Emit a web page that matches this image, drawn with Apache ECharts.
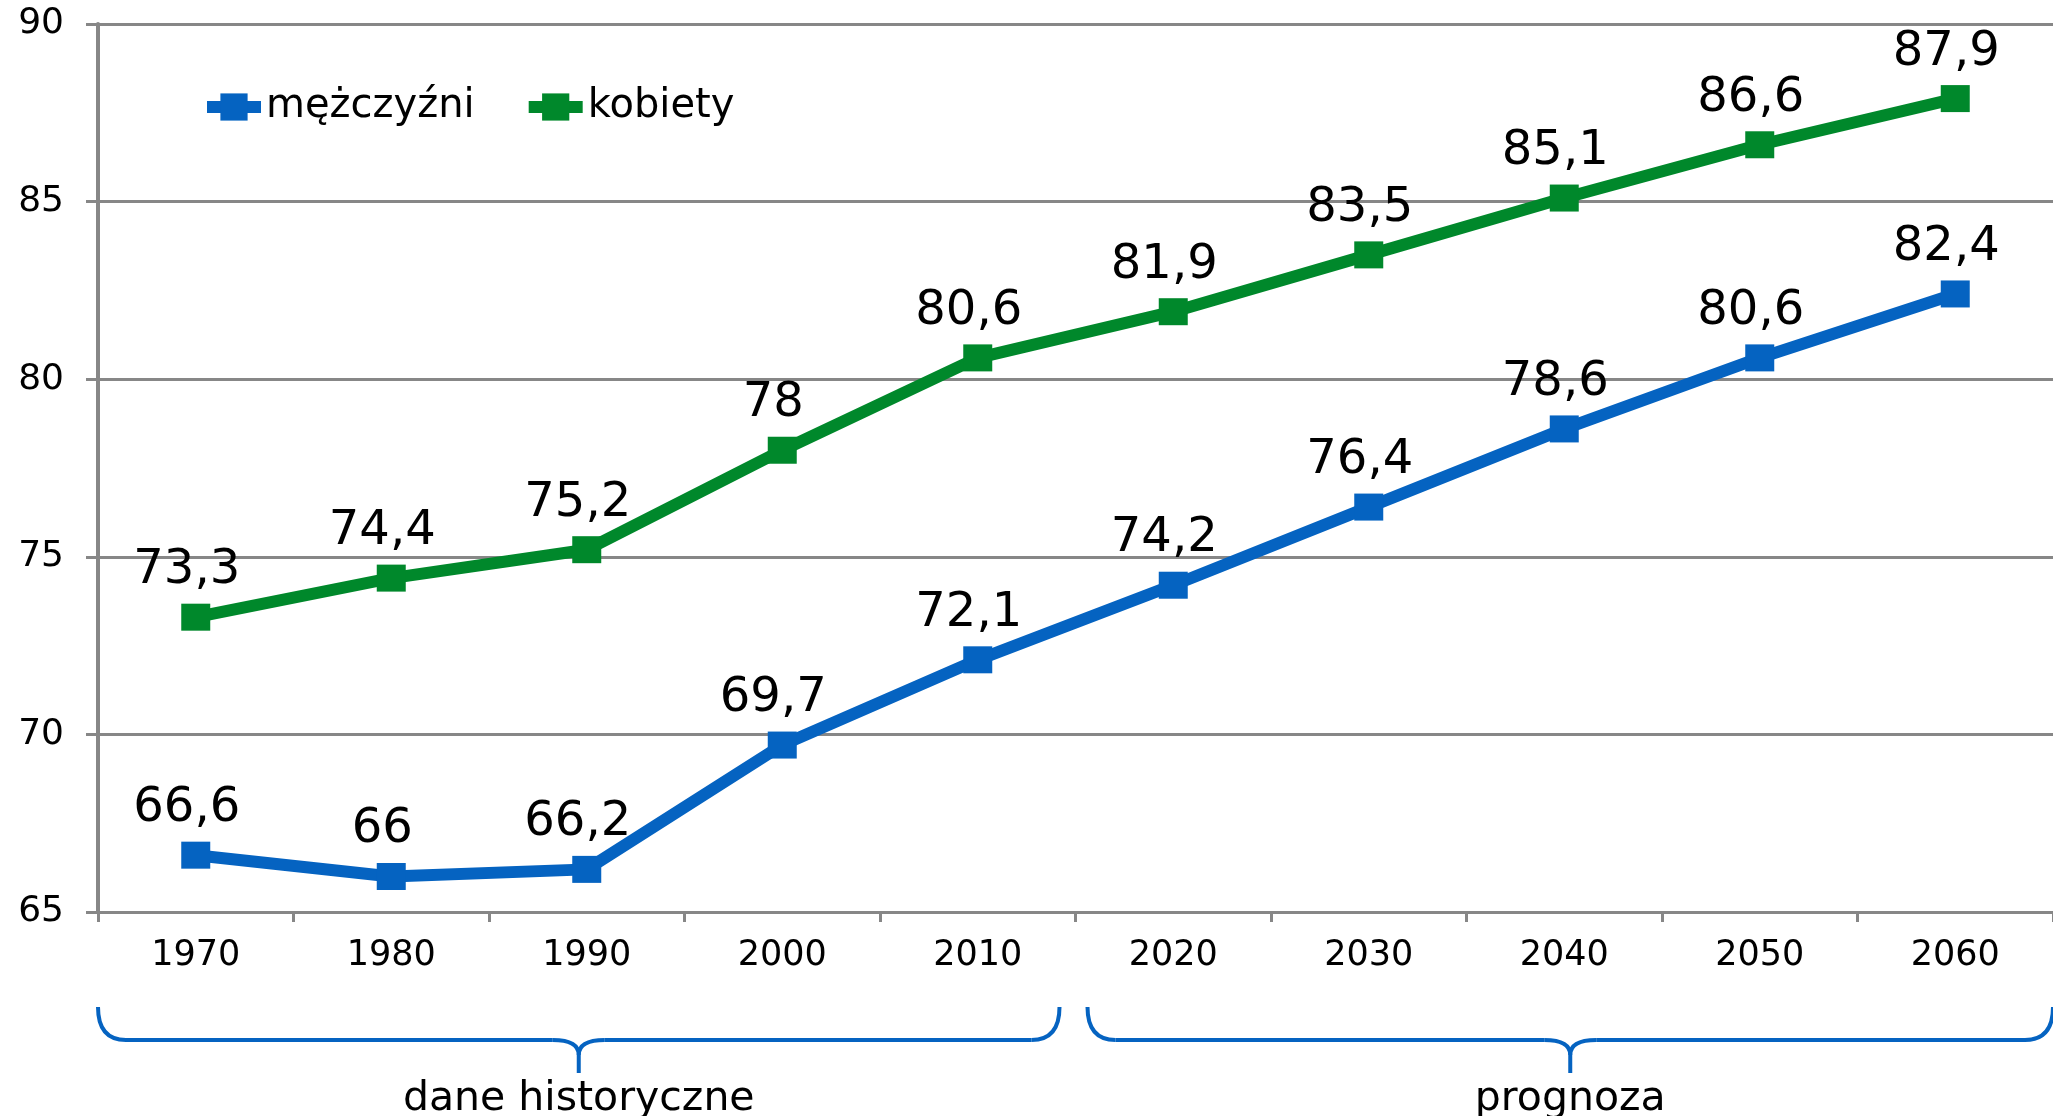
<!DOCTYPE html>
<html>
<head>
<meta charset="utf-8">
<script src="https://cdn.jsdelivr.net/npm/echarts@6/dist/echarts.min.js"></script>
<style>
html,body{margin:0;padding:0;background:#fff;}
#chart{width:2053px;height:1116px;}
</style>
</head>
<body>
<div id="chart"></div>
<script>
const categories = ['1970','1980','1990','2000','2010','2020','2030','2040','2050','2060'];
const menValues = [66.6, 66, 66.2, 69.7, 72.1, 74.2, 76.4, 78.6, 80.6, 82.4];
const womenValues = [73.3, 74.4, 75.2, 78, 80.6, 81.9, 83.5, 85.1, 86.6, 87.9];
const seriesNames = ['mężczyźni', 'kobiety'];
const yMin = 65, yMax = 90, yStep = 5;
const groupLabels = ['dane historyczne', 'prognoza'];
const groupRanges = [[0, 4], [5, 9]];

const BLUE = '#0563C1', GREEN = '#00882B', GRAY = '#878787';
const FONT = 'DejaVu Sans';

const chart = echarts.init(document.getElementById('chart'), null, {renderer: 'canvas'});

function fmt(p) { return String(p.value).replace('.', ','); }

function lineSeries(name, data, color) {
  return {
    name: name,
    type: 'line',
    data: data,
    symbol: 'rect',
    symbolSize: [29, 27],
    lineStyle: {color: color, width: 12},
    itemStyle: {color: color},
    label: {
      show: true, position: 'top', distance: 9, offset: [-9, 0],
      formatter: fmt, fontSize: 48, fontFamily: FONT, color: '#000'
    }
  };
}

chart.setOption({
  animation: false,
  backgroundColor: '#fff',
  grid: {left: 98, right: 0, top: 24, bottom: 204, containLabel: false},
  legend: {
    data: seriesNames,
    left: 196, top: 82,
    itemWidth: 54, itemHeight: 34, itemGap: 48,
    lineStyle: {width: 12},
    textStyle: {fontSize: 40, fontFamily: FONT, color: '#000'}
  },
  xAxis: {
    type: 'category',
    data: categories,
    boundaryGap: true,
    axisLine: {lineStyle: {color: GRAY, width: 3}},
    axisTick: {show: true, length: 10, lineStyle: {color: GRAY, width: 3}},
    axisLabel: {fontSize: 35, fontFamily: FONT, color: '#000', margin: 26}
  },
  yAxis: {
    type: 'value',
    min: yMin, max: yMax, interval: yStep,
    axisLine: {show: true, lineStyle: {color: GRAY, width: 4}},
    axisTick: {show: true, length: 12, lineStyle: {color: GRAY, width: 3}},
    splitLine: {show: true, lineStyle: {color: GRAY, width: 3}},
    axisLabel: {fontSize: 36, fontFamily: FONT, color: '#000', margin: 34}
  },
  series: [
    lineSeries(seriesNames[0], menValues, BLUE),
    lineSeries(seriesNames[1], womenValues, GREEN)
  ]
});

// Braces under the axis, positioned from category boundaries
function catX(i) { return chart.convertToPixel({xAxisIndex: 0}, i); }
const band = catX(1) - catX(0);
function boundary(i) { return catX(0) + (i - 0.5) * band; }
const yBase = chart.convertToPixel({yAxisIndex: 0}, yMin);
const yTop = yBase + 95, yMid = yBase + 128, yBot = yBase + 161;
const r = 28, rc = 26;
const braceStyle = {stroke: BLUE, lineWidth: 4, fill: null};
const elements = [];
groupRanges.forEach(function (rg, gi) {
  let x0 = boundary(rg[0]);
  let x1 = boundary(rg[1] + 1);
  if (gi === 0) x1 -= 16; else x0 += 12;
  const xc = (x0 + x1) / 2;
  const yc = yMid + 15;
  elements.push(
    {type: 'bezierCurve', shape: {x1: x0, y1: yTop, x2: x0 + r, y2: yMid, cpx1: x0, cpy1: yMid}, style: braceStyle},
    {type: 'line', shape: {x1: x0 + r, y1: yMid, x2: xc - rc, y2: yMid}, style: braceStyle},
    {type: 'bezierCurve', shape: {x1: xc - rc, y1: yMid, x2: xc, y2: yc, cpx1: xc, cpy1: yMid}, style: braceStyle},
    {type: 'bezierCurve', shape: {x1: xc + rc, y1: yMid, x2: xc, y2: yc, cpx1: xc, cpy1: yMid}, style: braceStyle},
    {type: 'line', shape: {x1: xc, y1: yc, x2: xc, y2: yBot}, style: braceStyle},
    {type: 'line', shape: {x1: xc + rc, y1: yMid, x2: x1 - r, y2: yMid}, style: braceStyle},
    {type: 'bezierCurve', shape: {x1: x1 - r, y1: yMid, x2: x1, y2: yTop, cpx1: x1, cpy1: yMid}, style: braceStyle},
    {type: 'text', x: xc, y: yBase + 187, style: {text: groupLabels[gi], font: '41px "DejaVu Sans"', fill: '#000', textAlign: 'center', textVerticalAlign: 'middle'}}
  );
});
chart.setOption({graphic: {elements: elements}});
</script>
</body>
</html>
